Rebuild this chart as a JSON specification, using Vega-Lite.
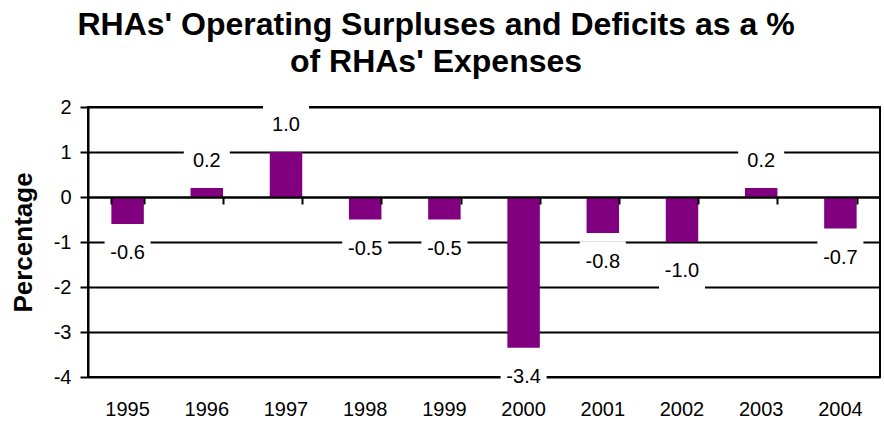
{
  "$schema": "https://vega.github.io/schema/vega-lite/v6.json",
  "autosize": "none",
  "width": 792,
  "height": 270,
  "padding": {"left": 88, "top": 107, "right": 4, "bottom": 46},
  "background": "white",
  "config": {
    "font": "Liberation Sans",
    "view": {"stroke": "black", "strokeWidth": 2},
    "locale": {
      "number": {"decimal": ".", "thousands": ",", "grouping": [3], "currency": ["$", ""], "minus": "-"}
    }
  },
  "title": {
    "text": ["RHAs' Operating Surpluses and Deficits as a %", "of RHAs' Expenses"],
    "fontSize": 32,
    "fontWeight": "bold",
    "color": "black",
    "anchor": "middle",
    "dx": -48,
    "lineHeight": 37,
    "baseline": "bottom",
    "offset": -14
  },
  "data": {
    "values": [
      {"year": "1995", "value": -0.6},
      {"year": "1996", "value": 0.2},
      {"year": "1997", "value": 1.0},
      {"year": "1998", "value": -0.5},
      {"year": "1999", "value": -0.5},
      {"year": "2000", "value": -3.35},
      {"year": "2001", "value": -0.8},
      {"year": "2002", "value": -1.0},
      {"year": "2003", "value": 0.2},
      {"year": "2004", "value": -0.7}
    ]
  },
  "encoding": {
    "y": {
      "field": "value",
      "type": "quantitative",
      "scale": {"domain": [-4, 2], "nice": false, "zero": false},
      "axis": {
        "title": "Percentage",
        "titleFontSize": 26,
        "titleFontWeight": "bold",
        "titleColor": "black",
        "titlePadding": 17,
        "values": [-4, -3, -2, -1, 0, 1, 2],
        "format": "d",
        "labelFontSize": 20,
        "labelColor": "black",
        "labelPadding": 9,
        "grid": true,
        "gridColor": "black",
        "gridWidth": 2,
        "gridOpacity": 1,
        "domainColor": "black",
        "domainWidth": 2,
        "tickColor": "black",
        "tickWidth": 2,
        "tickSize": 8
      }
    }
  },
  "layer": [
    {
      "mark": {"type": "bar", "color": "#800080"},
      "encoding": {
        "x": {
          "field": "year",
          "type": "nominal",
          "sort": null,
          "scale": {"paddingInner": 0.59, "paddingOuter": 0.295},
          "axis": {
            "title": null,
            "labelAngle": 0,
            "labelFontSize": 20,
            "labelColor": "black",
            "ticks": false,
            "domain": false,
            "labelPadding": 22
          }
        }
      }
    },
    {
      "transform": [{"filter": "datum.value < 0"}],
      "mark": {"type": "point", "shape": "M-1,-0.9H1V0.9H-1Z", "filled": true, "color": "white", "opacity": 1, "size": 2116, "yOffset": 29},
      "encoding": {"x": {"field": "year", "type": "nominal", "sort": null, "axis": null}}
    },
    {
      "transform": [{"filter": "datum.value >= 0"}],
      "mark": {"type": "point", "shape": "M-1,-0.9H1V0.9H-1Z", "filled": true, "color": "white", "opacity": 1, "size": 2116, "yOffset": -27},
      "encoding": {"x": {"field": "year", "type": "nominal", "sort": null, "axis": null}}
    },
    {
      "transform": [{"filter": "datum.value < 0"}],
      "mark": {"type": "text", "fontSize": 20, "color": "black", "baseline": "middle", "dy": 29},
      "encoding": {
        "x": {"field": "year", "type": "nominal", "sort": null, "axis": null},
        "text": {"field": "value", "type": "quantitative", "format": ".1f"}
      }
    },
    {
      "transform": [{"filter": "datum.value >= 0"}],
      "mark": {"type": "text", "fontSize": 20, "color": "black", "baseline": "middle", "dy": -27},
      "encoding": {
        "text": {"field": "value", "type": "quantitative", "format": ".1f"},
        "x": {
          "field": "year",
          "type": "nominal",
          "sort": null,
          "axis": {
            "orient": "top",
            "offset": -90,
            "title": null,
            "labels": false,
            "tickBand": "extent",
            "tickSize": -7,
            "tickWidth": 2,
            "tickColor": "black",
            "domainColor": "black",
            "domainWidth": 2,
            "zindex": 1
          }
        }
      }
    }
  ],
  "resolve": {"axis": {"x": "independent"}}
}
